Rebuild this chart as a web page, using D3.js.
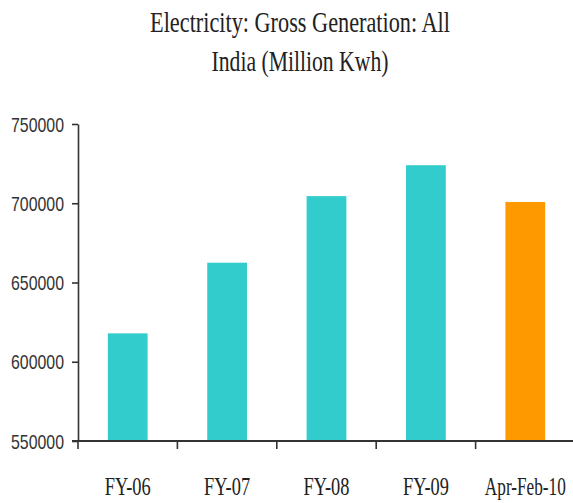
<!DOCTYPE html>
<html>
<head>
<meta charset="utf-8">
<script src="https://cdn.jsdelivr.net/npm/d3@7"></script>
<style>
  html, body { margin: 0; padding: 0; background: #fff; }
  svg { display: block; }
</style>
</head>
<body>
<svg id="chart" width="573" height="503"></svg>
<script>
// Gross electricity generation, all India (million kWh)
const categories = ["FY-06", "FY-07", "FY-08", "FY-09", "Apr-Feb-10"];
const generation = [617900, 662500, 704500, 724000, 700800];
const barColors = ["#33cccc", "#33cccc", "#33cccc", "#33cccc", "#ff9900"];
const yTicks = [550000, 600000, 650000, 700000, 750000];
const titleLines = ["Electricity: Gross Generation: All", "India (Million Kwh)"];

const svg = d3.select("#chart");
const margin = { left: 78, right: -2, top: 124, bottom: 62 };
const W = 573, H = 503;

// Squeeze a text horizontally to a target width, keeping its anchor point fixed
function condense(sel, widthFn) {
  sel.each(function (d, i) {
    const t = d3.select(this);
    const natural = this.getComputedTextLength();
    const sx = Math.min(1, widthFn(d, i) / natural);
    const x0 = +t.attr("x") || 0;
    const y0 = +t.attr("y") || 0;
    t.attr("transform", `translate(${x0},${y0}) scale(${sx},1)`)
      .attr("x", 0).attr("y", 0);
  });
}

const x = d3.scaleBand()
  .domain(categories)
  .range([margin.left, W - margin.right])
  .paddingInner(0.6)
  .paddingOuter(0.3);

const y = d3.scaleLinear()
  .domain([550000, 750000])
  .range([H - margin.bottom, margin.top]);

// Title (condensed serif)
const titleWidths = [300, 177];
svg.selectAll("text.title")
  .data(titleLines)
  .join("text")
  .attr("class", "title")
  .attr("x", 300)
  .attr("y", (d, i) => 32 + i * 39)
  .attr("text-anchor", "middle")
  .attr("font-family", "Liberation Serif, serif")
  .attr("font-size", 30)
  .attr("fill", "#222")
  .text(d => d)
  .call(condense, (d, i) => titleWidths[i]);

// Bars
svg.append("g")
  .selectAll("rect")
  .data(categories)
  .join("rect")
  .attr("x", d => x(d))
  .attr("width", x.bandwidth())
  .attr("y", (d, i) => y(generation[i]))
  .attr("height", (d, i) => y(550000) - y(generation[i]))
  .attr("fill", (d, i) => barColors[i]);

// Y axis
const yAxis = svg.append("g")
  .attr("transform", `translate(${margin.left},0)`)
  .call(d3.axisLeft(y).tickValues(yTicks).tickSize(6).tickSizeOuter(0).tickFormat(d3.format("d")));
yAxis.select(".domain").attr("stroke", "#333").attr("stroke-width", 1.6);
yAxis.selectAll(".tick line").attr("stroke", "#333").attr("stroke-width", 1.6);
yAxis.selectAll(".tick text")
  .attr("x", -14)
  .attr("y", 0)
  .attr("dy", "0.36em")
  .attr("font-family", "Liberation Sans, Arial, sans-serif")
  .attr("font-size", 20)
  .attr("fill", "#333")
  .call(condense, () => 53);

// X axis baseline with ticks at band boundaries
const base = y(550000);
const xAxis = svg.append("g");
xAxis.append("line")
  .attr("x1", margin.left - 6).attr("x2", W)
  .attr("y1", base).attr("y2", base)
  .attr("stroke", "#333").attr("stroke-width", 1.8);
xAxis.selectAll("line.tick")
  .data(categories)
  .join("line")
  .attr("class", "tick")
  .attr("x1", d => x(d) - x.step() * x.paddingOuter())
  .attr("x2", d => x(d) - x.step() * x.paddingOuter())
  .attr("y1", base).attr("y2", base + 8)
  .attr("stroke", "#333").attr("stroke-width", 1.6);

const labelWidths = [46, 46, 46, 46, 81];
xAxis.selectAll("text")
  .data(categories)
  .join("text")
  .attr("x", d => x(d) + x.bandwidth() / 2)
  .attr("y", 495)
  .attr("text-anchor", "middle")
  .attr("font-family", "Liberation Serif, serif")
  .attr("font-size", 25)
  .attr("fill", "#222")
  .text(d => d)
  .call(condense, (d, i) => labelWidths[i]);
</script>
</body>
</html>
